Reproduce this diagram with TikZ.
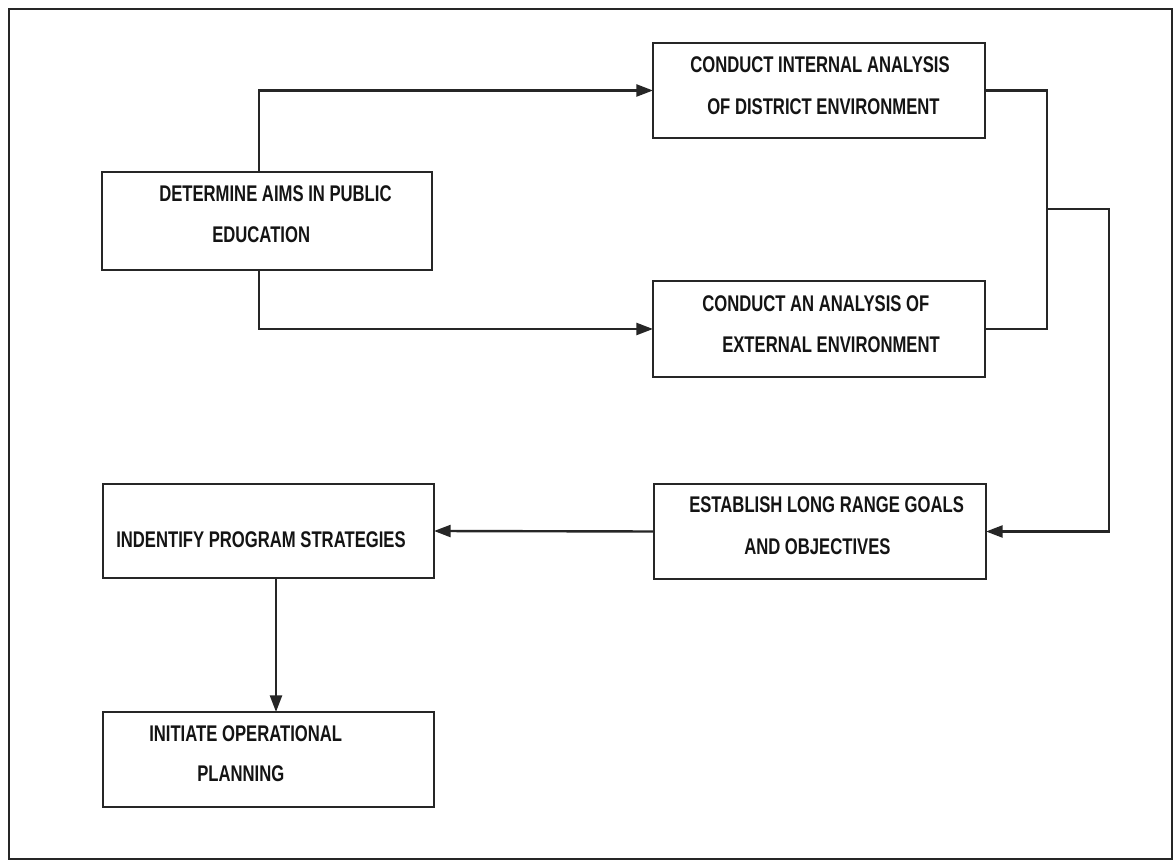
\documentclass[tikz,border=0pt]{standalone}
\usepackage{fontspec}
\setmainfont{Liberation Sans}[FakeStretch=0.735]
\usetikzlibrary{arrows.meta}
\definecolor{ink}{HTML}{262626}
\definecolor{textink}{HTML}{141414}
\tikzset{
  stepbox/.style={draw=ink, line width=2.2pt, rectangle, inner sep=0pt, outer sep=0pt, fill=white},
  label/.style={anchor=base west, inner sep=0pt, text=textink, font=\fontsize{17pt}{19pt}\selectfont\bfseries},
  link/.style={draw=ink, line width=1.8pt},
  flow/.style={link, -{Triangle[length=12.5pt, width=9pt]}},
  frame/.style={draw=ink, line width=1.6pt}
}
\begin{document}
\begin{tikzpicture}[x=0.75pt, y=-0.75pt]
\useasboundingbox (0,0) rectangle (1175,862);
\fill[white] (0,0) rectangle (1175,862);
\draw[frame] (9,9) rectangle (1172,859);

% process boxes
\node[stepbox, minimum width=330*0.75pt, minimum height=98*0.75pt] (aims) at (267,221) {};
\node[stepbox, minimum width=332*0.75pt, minimum height=95*0.75pt] (internal) at (819,90.5) {};
\node[stepbox, minimum width=332*0.75pt, minimum height=96*0.75pt] (external) at (819,329) {};
\node[stepbox, minimum width=332*0.75pt, minimum height=95*0.75pt] (goals) at (820,531.5) {};
\node[stepbox, minimum width=331*0.75pt, minimum height=94*0.75pt] (strategies) at (268.5,531) {};
\node[stepbox, minimum width=331*0.75pt, minimum height=95*0.75pt] (planning) at (268.5,759.5) {};

% box captions
\node[label] (aims1) at (159,202) {DETERMINE AIMS IN PUBLIC};
\node[label] (aims2) at (212,243) {EDUCATION};
\node[label] (int1) at (690,73) {CONDUCT INTERNAL ANALYSIS};
\node[label] (int2) at (707,115) {OF DISTRICT ENVIRONMENT};
\node[label] (ext1) at (702,312) {CONDUCT AN ANALYSIS OF};
\node[label] (ext2) at (722,353) {EXTERNAL ENVIRONMENT};
\node[label] (goal1) at (689,513) {ESTABLISH LONG RANGE GOALS};
\node[label] (goal2) at (744,555) {AND OBJECTIVES};
\node[label] (strat1) at (116,548) {INDENTIFY PROGRAM STRATEGIES};
\node[label] (plan1) at (149,741) {INITIATE OPERATIONAL};
\node[label] (plan2) at (197,781) {PLANNING};

% connectors
\draw[flow] (aims.north -| 259,0) |- (internal.west);
\draw[flow] (aims.south -| 259,0) |- (external.west);
\draw[link] (internal.east) -- ++(62,0) |- (external.east);
\coordinate (merge) at (1047,209);
\draw[flow] (merge) -- (1109,209) |- (goals.east);
\draw[flow] (goals.west) -- (strategies.east);
\draw[flow] (strategies.south -| 276,0) -- (planning.north -| 276,0);
\end{tikzpicture}
\end{document}
